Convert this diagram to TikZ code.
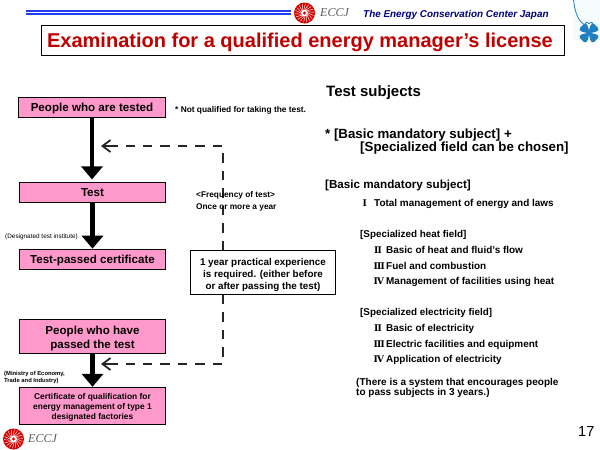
\documentclass[tikz,border=0pt]{standalone}
\usepackage{fontspec}
\setmainfont{Liberation Sans}
\newfontfamily\romf{DejaVu Serif}
\newfontfamily\eccjf{Liberation Serif}
\usetikzlibrary{arrows.meta}
\definecolor{pinkbox}{HTML}{FF99CC}
\definecolor{titlered}{HTML}{C00000}
\definecolor{navyt}{HTML}{000080}
\definecolor{cloverb}{HTML}{1F7FC0}
\definecolor{linebl}{HTML}{2040F0}
\newcommand{\fs}[1]{\fontsize{#1}{#1}\selectfont}
\newcommand{\eccjlogo}[2]{%
  \fill[red!85!black] (#1,#2) circle (10.5);
  \foreach \a in {0,20,...,340}{\draw[white,line width=.45pt] (#1,#2) ++(\a:3.5) -- ++(\a+25:6);}
  \fill[white] (#1,#2) circle (3.5);
  \fill[red!85!black] (#1,#2) circle (1.6);
}
\tikzset{
  x=1pt,y=-1pt,
  pbox/.style={draw=black,line width=1pt,fill=pinkbox,minimum width=146pt,align=center,inner sep=0pt,font=\bfseries,text=black},
  onel/.style={text height=8.3pt,text depth=0pt},
  txt/.style={anchor=base west,inner sep=0pt,align=left,font=\bfseries,text=black},
  rom/.style={anchor=base west,inner sep=0pt,text=black,font=\romf\bfseries\fs{9.2}},
  thick arrow/.style={line width=4.6pt,-{Triangle[width=21pt,length=13pt]}},
  dash arrow/.style={draw=black!85,line width=2pt,-{Straight Barb[length=8pt,width=12pt,line width=1.8pt]}},
  dash line/.style={draw=black!85,line width=2pt,dash pattern=on 9.5pt off 8pt},
}
\begin{document}
\begin{tikzpicture}
\path[use as bounding box] (0,0) rectangle (600,450);
\fill[white] (0,0) rectangle (600,450);
% header
\fill[linebl] (26,10) rectangle (291,11.7);
\fill[linebl] (26,13) rectangle (291,14.7);
\eccjlogo{304.5}{13}
\node[anchor=base west,inner sep=0pt,text=black!65,font=\eccjf\itshape\fs{12}] (eccjtop) at (320,16.8) {ECCJ};
\node[anchor=base west,inner sep=0pt,text=navyt,font=\bfseries\itshape\fs{9.9}] (center) at (363,17.3) {The Energy Conservation Center Japan};
% clover
\fill[cyan!4] (573,0) rectangle (600,40);
\draw[cloverb,line width=.8pt] (573.5,0) .. controls (575,12) and (578,22) .. (586,25.5);
\foreach \a in {45,135,225,315}{
  \fill[cloverb,shift={(589,33)},rotate=\a,scale=1.25] (0,0) .. controls (2,-2) and (8,-6) .. (8,-2) .. controls (8,-1) and (8,1) .. (8,2) .. controls (8,6) and (2,2) .. (0,0);
}
\draw[cloverb,line width=.8pt] (589,30) .. controls (583,25) and (585,20) .. (589,23.5) .. controls (593,20) and (595,25) .. (589,30);
% title
\fill[black!55] (42.5,26.5) rectangle (565,56.3);
\node[draw=black,line width=1pt,fill=white,minimum width=523pt,minimum height=30pt,inner sep=0pt,text=titlered,font=\bfseries\fs{20},text height=14.3pt,text depth=0pt] (title) at (302.5,40.5) {\hspace*{-5pt}Examination for a qualified energy manager’s license};
% flow boxes
\node[pbox,onel,minimum width=147pt,minimum height=20pt,font=\bfseries\fs{11.6}] (a) at (92,107.5) {People who are tested};
\node[pbox,onel,minimum height=20.5pt,font=\bfseries\fs{11.6}] (b) at (92.5,192.7) {Test};
\node[pbox,onel,minimum height=20pt,font=\bfseries\fs{11.6}] (c) at (92.5,259.2) {Test-passed certificate};
\node[pbox,minimum height=34pt,font=\bfseries\fs{11.6}] (d) at (92.5,336) {\rule{0pt}{12.5pt}People who have\\[2.4pt]passed the test};
\node[pbox,minimum height=37pt,font=\bfseries\fs{8.4}] (e) at (92.5,405.8) {\rule{0pt}{9.2pt}Certificate of qualification for\\[1.6pt]energy management of type 1\\[1.6pt]designated factories};
\node[draw=black,line width=1pt,fill=white,minimum width=145pt,minimum height=43.5pt,inner sep=0pt,align=center,font=\bfseries\fs{9.85}] (f) at (263,272.7) {\rule{0pt}{11.2pt}1 year practical experience\\[2.4pt]is required. (either before\\[2.4pt]or after passing the test)};
% arrows
\draw[thick arrow] (a) -- ([yshift=2.5pt]a|-b.north);
\draw[thick arrow] (b) -- (b|-c.north);
\draw[thick arrow] (d) -- (d|-e.north);
\coordinate (t1) at (101,146);
\coordinate (t2) at (101,364);
\coordinate (s1) at (118,146);
\coordinate (s2) at (118,364);
\coordinate (e1) at (126,146);
\coordinate (e2) at (126,364);
\coordinate (c1) at (223,146);
\coordinate (c2) at (223,364);
\draw[dash line] (f.north-|c1) -- (c1) -- (e1);
\draw[dash arrow] (s1) -- (t1);
\draw[dash line] (f.south-|c2) -- (c2) -- (e2);
\draw[dash arrow] (s2) -- (t2);
% notes
\node[txt,font=\bfseries\fs{8.35}] (n1) at (175,112.7) {* Not qualified for taking the test.};
\node[txt,font=\bfseries\fs{8.3}] (n2) at (196,197.7) {<Frequency of test>};
\node[txt,font=\bfseries\fs{8.3}] (n3) at (196,209.3) {Once or more a year};
\node[txt,font=\fs{6.4}] (n4) at (5,238.7) {(Designated test institute)};
\node[txt,font=\bfseries\fs{5.85}] (n5) at (4,375.5) {(Ministry of Economy,};
\node[txt,font=\bfseries\fs{5.85}] (n6) at (4,382.8) {Trade and Industry)};
% right column
\node[txt,font=\bfseries\fs{15}] (r1) at (326,96.5) {Test subjects};
\node[txt,font=\bfseries\fs{13.3}] (r2) at (325,138) {* [Basic mandatory subject] +};
\node[txt,font=\bfseries\fs{13.3}] (r3) at (360,151.5) {[Specialized field can be chosen]};
\node[txt,font=\bfseries\fs{11.65}] (r4) at (325,188.3) {[Basic mandatory subject]};
\node[rom] (r5a) at (362.5,206.7) {Ⅰ};
\node[txt,font=\bfseries\fs{9.95}] (r5) at (374,206.7) {Total management of energy and laws};
\node[txt,font=\bfseries\fs{9.85}] (r6) at (360,237.7) {[Specialized heat field]};
\node[rom] (r7a) at (374,253.3) {Ⅱ};
\node[txt,font=\bfseries\fs{9.95}] (r7) at (386,253.3) {Basic of heat and fluid's flow};
\node[rom] (r8a) at (373.5,269) {Ⅲ};
\node[txt,font=\bfseries\fs{9.95}] (r8) at (386,269) {Fuel and combustion};
\node[rom] (r9a) at (373.5,284.3) {Ⅳ};
\node[txt,font=\bfseries\fs{9.95}] (r9) at (386,284.3) {Management of facilities using heat};
\node[txt,font=\bfseries\fs{9.85}] (r10) at (360,315.7) {[Specialized electricity field]};
\node[rom] (r11a) at (374,331.3) {Ⅱ};
\node[txt,font=\bfseries\fs{9.95}] (r11) at (386,331.3) {Basic of electricity};
\node[rom] (r12a) at (373.5,347.3) {Ⅲ};
\node[txt,font=\bfseries\fs{9.95}] (r12) at (386,347.3) {Electric facilities and equipment};
\node[rom] (r13a) at (373.5,362.7) {Ⅳ};
\node[txt,font=\bfseries\fs{9.95}] (r13) at (386,362.7) {Application of electricity};
\node[txt,font=\bfseries\fs{10}] (r14) at (356,385.7) {(There is a system that encourages people};
\node[txt,font=\bfseries\fs{10}] (r15) at (356,395.3) {to pass subjects in 3 years.)};
\node[txt,font=\fs{14.5}] (num) at (578,436) {17};
% bottom logo
\eccjlogo{13.5}{439}
\node[anchor=base west,inner sep=0pt,text=black!65,font=\eccjf\itshape\fs{12}] (eccjbot) at (28,442.3) {ECCJ};
\end{tikzpicture}
\end{document}
